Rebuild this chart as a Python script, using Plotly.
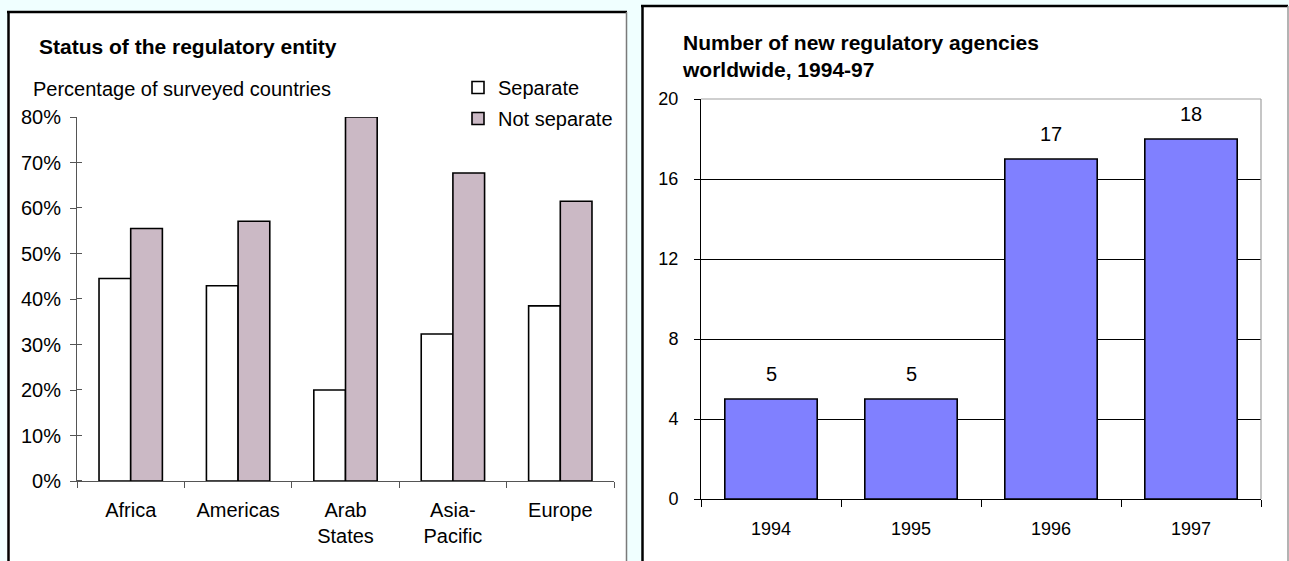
import plotly.graph_objects as go

# ---------------- data ----------------
regions = ["Africa", "Americas", "Arab<br>States", "Asia-<br>Pacific", "Europe"]
separate = [44.5, 42.9, 20.0, 32.3, 38.5]
not_separate = [55.5, 57.1, 80.0, 67.7, 61.5]
left_y_ticks = [0, 10, 20, 30, 40, 50, 60, 70, 80]
left_y_labels = ["0%", "10%", "20%", "30%", "40%", "50%", "60%", "70%", "80%"]

years = ["1994", "1995", "1996", "1997"]
new_agencies = [5, 5, 17, 18]
right_y_ticks = [0, 4, 8, 12, 16, 20]

# ---------------- helpers ----------------
W, H = 1289, 561
def px(x):
    return x / W
def py(y):
    return 1 - y / H

FONT = "Arial, 'Liberation Sans', sans-serif"
AX = "#555555"
BG = "#f0ffff"

fig = go.Figure()

fig.add_trace(go.Bar(
    x=regions, y=separate, name="Separate", xaxis="x", yaxis="y",
    marker=dict(color="white", line=dict(color="black", width=1.6)),
    legendgroup="a", hoverinfo="skip"))
fig.add_trace(go.Bar(
    x=regions, y=not_separate, name="Not separate", xaxis="x", yaxis="y",
    marker=dict(color="#cbb9c5", line=dict(color="black", width=1.6)),
    legendgroup="b", hoverinfo="skip"))
fig.add_trace(go.Bar(
    x=years, y=new_agencies, name="New agencies", xaxis="x2", yaxis="y2",
    marker=dict(color="#8080ff", line=dict(color="black", width=1.6)),
    width=0.66, showlegend=False, hoverinfo="skip"))

annotations = []
for i, v in enumerate(new_agencies):
    annotations.append(dict(x=i, y=v, xref="x2", yref="y2", text=str(v),
                            showarrow=False, yanchor="bottom", yshift=12,
                            font=dict(family=FONT, size=20, color="black")))

annotations += [
    dict(x=px(37), y=py(47), xref="paper", yref="paper", xanchor="left", yanchor="middle",
         text="<b>Status of the regulatory entity</b>", showarrow=False,
         font=dict(family=FONT, size=21, color="black")),
    dict(x=px(31), y=py(89), xref="paper", yref="paper", xanchor="left", yanchor="middle",
         text="Percentage of surveyed countries", showarrow=False,
         font=dict(family=FONT, size=20, color="black")),
    dict(x=px(680), y=py(56), xref="paper", yref="paper", xanchor="left", yanchor="middle",
         text="<b>Number of new regulatory agencies</b><br><b>worldwide, 1994-97</b>",
         align="left", showarrow=False,
         font=dict(family=FONT, size=21, color="black")),
]

shapes = [
    # panels
    dict(type="rect", xref="paper", yref="paper", x0=px(8), x1=px(627), y0=-0.05, y1=py(11),
         fillcolor="white", line=dict(width=0), layer="below"),
    dict(type="rect", xref="paper", yref="paper", x0=px(642), x1=1, y0=-0.05, y1=py(6),
         fillcolor="white", line=dict(width=0), layer="below"),
    dict(type="line", xref="paper", yref="paper", x0=px(8.5), x1=px(8.5), y0=-0.05, y1=py(11),
         line=dict(color="black", width=2.5)),
    dict(type="line", xref="paper", yref="paper", x0=px(7), x1=px(627), y0=py(12), y1=py(12),
         line=dict(color="black", width=2.5)),
    dict(type="line", xref="paper", yref="paper", x0=px(626.5), x1=px(626.5), y0=-0.05, y1=py(12),
         line=dict(color="#7a7a7a", width=1.5)),
    dict(type="line", xref="paper", yref="paper", x0=px(642.5), x1=px(642.5), y0=-0.05, y1=py(5),
         line=dict(color="black", width=2.5)),
    dict(type="line", xref="paper", yref="paper", x0=px(641), x1=px(1288), y0=py(6), y1=py(6),
         line=dict(color="black", width=2.5)),
    dict(type="line", xref="paper", yref="paper", x0=px(1288), x1=px(1288), y0=-0.05, y1=py(6),
         line=dict(color="#9a9a9a", width=1.5)),
    # right plot area border (top and right)
    dict(type="line", xref="x2 domain", yref="y2 domain", x0=0, x1=1, y0=1, y1=1,
         line=dict(color="#a0a0a0", width=1.2)),
    dict(type="line", xref="x2 domain", yref="y2 domain", x0=1, x1=1, y0=0, y1=1,
         line=dict(color="#a0a0a0", width=1.2)),
]

fig.update_layout(
    width=W, height=H,
    margin=dict(l=0, r=0, t=0, b=0, pad=0, autoexpand=False),
    paper_bgcolor=BG, plot_bgcolor="white",
    font=dict(family=FONT, size=20, color="black"),
    barmode="group", bargap=0.41, bargroupgap=0,
    showlegend=True,
    legend=dict(x=px(458), y=py(68), xanchor="left", yanchor="top",
                font=dict(family=FONT, size=20, color="black"),
                bgcolor="rgba(0,0,0,0)", traceorder="grouped", tracegroupgap=2,
                itemwidth=30),
    annotations=annotations,
    shapes=shapes,
    xaxis=dict(domain=[px(77), px(614)], anchor="y", type="category", automargin=False,
               tickson="boundaries", ticks="outside", ticklen=6, tickcolor=AX, tickwidth=1,
               showline=True, linecolor=AX, linewidth=1, showgrid=False, zeroline=False,
               tickfont=dict(family=FONT, size=20), ticklabelstandoff=11),
    yaxis=dict(domain=[py(481), py(117)], anchor="x", range=[0, 80], automargin=False,
               tickmode="array", tickvals=left_y_ticks, ticktext=left_y_labels,
               ticks="outside", ticklen=6, tickcolor=AX, tickwidth=1,
               minor=dict(ticks="inside", tickvals=[v + 0.01 for v in left_y_ticks],
                          ticklen=5, tickcolor=AX, tickwidth=1, showgrid=False),
               showline=True, linecolor=AX, linewidth=1, showgrid=False, zeroline=False,
               tickfont=dict(family=FONT, size=20), ticklabelstandoff=5),
    xaxis2=dict(domain=[px(701), px(1261)], anchor="y2", type="category", automargin=False,
                range=[-0.5, len(years) - 0.5],
                tickson="boundaries", ticks="outside", ticklen=7, tickcolor="black",
                showline=True, linecolor="black", linewidth=1, showgrid=False, zeroline=False,
                tickfont=dict(family=FONT, size=18), ticklabelstandoff=13),
    yaxis2=dict(domain=[py(499), py(99)], anchor="x2", range=[0, 20], automargin=False,
                tickmode="array", tickvals=right_y_ticks,
                ticks="outside", ticklen=6, tickcolor="black",
                showline=True, linecolor="black", linewidth=1,
                showgrid=True, gridcolor="black", gridwidth=1, zeroline=False,
                tickfont=dict(family=FONT, size=18), ticklabelstandoff=12),
)

fig.write_html(
    "out.html",
    post_script="document.documentElement.style.margin='0';"
                "document.documentElement.style.padding='0';"
                "document.documentElement.style.overflow='hidden';"
                "document.documentElement.style.background='" + BG + "';"
                "document.body.style.margin='0';document.body.style.padding='0';"
                "document.body.style.overflow='hidden';",
)
